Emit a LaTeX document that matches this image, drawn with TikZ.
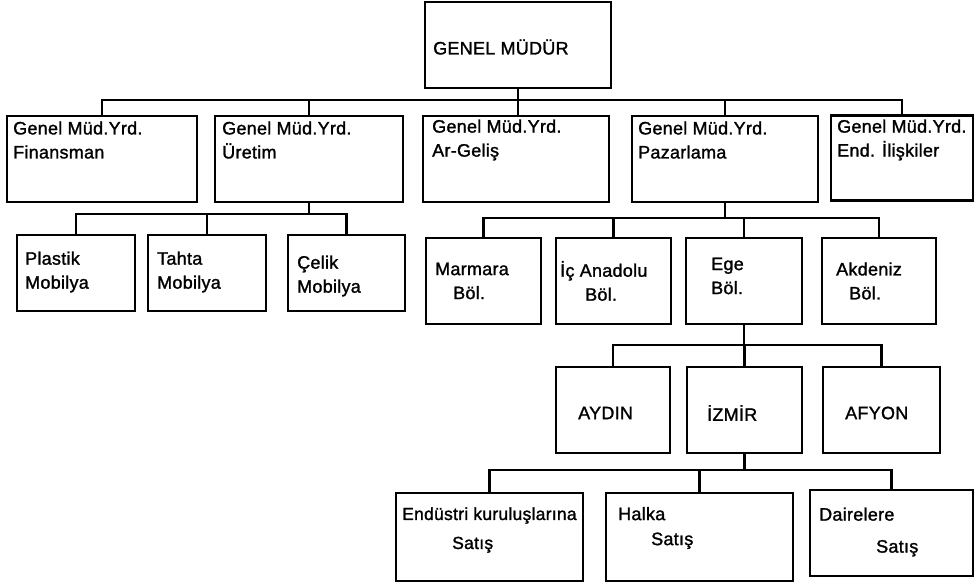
\documentclass[tikz,border=0pt]{standalone}
\usepackage{fontspec}
\setmainfont{Liberation Sans}
\newfontfamily\chartfont{Liberation Sans}[FakeBold=1.4,LetterSpace=1.5]
\usetikzlibrary{calc}
\tikzset{
  unit/.style      = {rectangle, draw, line width=2.4pt, inner sep=0pt},
  wire/.style      = {line width=2.2pt},
  unitlabel/.style = {anchor=west, align=left, inner sep=0pt,
                      font=\chartfont\fontsize{18}{24}\selectfont},
}

\begin{document}
\begin{tikzpicture}[x=1pt,y=-1pt]
  \useasboundingbox (0,0) rectangle (975,584);

  % ---------------- genel mudur -------------------------------------------
  \node[unit,minimum width=186,minimum height=86] (gm) at (518,45) {};
  \node[unitlabel] (gm-t) at (433,47) {GENEL MÜDÜR};

  % ---------------- yardimcilar -------------------------------------------
  \node[unit,minimum width=190,minimum height=86] (fin) at (102,159) {};
  \node[unit,minimum width=188,minimum height=86] (ure) at (309,159) {};
  \node[unit,minimum width=186,minimum height=86] (arg) at (516,159) {};
  \node[unit,minimum width=186,minimum height=86] (paz) at (725,159) {};
  \node[unit,minimum width=142,minimum height=85] (endl) at (902,158) {};
  \node[unitlabel] (fin-t) at (13,140) {Genel Müd.Yrd.\\Finansman};
  \node[unitlabel] (ure-t) at (222,140) {Genel Müd.Yrd.\\Üretim};
  \node[unitlabel] (arg-t) at (432,140) {Genel Müd.Yrd.\\Ar-Geliş};
  \node[unitlabel] (paz-t) at (638,140) {Genel Müd.Yrd.\\Pazarlama};
  \node[unitlabel] (endl-t) at (837,140) {Genel Müd.Yrd.\\End. İlişkiler};

  \coordinate (b1) at (0,100);
  \draw[wire] (fin.north) |- (b1 -| endl.north) -- (endl.north);
  \draw[wire] (gm.south) -- (gm.south |- arg.north);
  \draw[wire] (ure.north) -- (ure.north |- b1);
  \draw[wire] (paz.north) -- (paz.north |- b1);

  % ---------------- uretim ------------------------------------------------
  \node[unit,minimum width=118,minimum height=76] (pla) at (76,273) {};
  \node[unit,minimum width=118,minimum height=76] (tah) at (207,273) {};
  \node[unit,minimum width=117,minimum height=76] (cel) at (346.5,273) {};
  \node[unitlabel] (pla-t) at (25,272) {Plastik\\Mobilya};
  \node[unitlabel] (tah-t) at (157,272) {Tahta\\Mobilya};
  \node[unitlabel] (cel-t) at (297,276) {Çelik\\Mobilya};

  \coordinate (b2) at (0,214);
  \draw[wire] (ure.south) -- (ure.south |- b2);
  \draw[wire] (pla.north) |- (b2 -| cel.north) -- (cel.north);
  \draw[wire] (tah.north) -- (tah.north |- b2);

  % ---------------- pazarlama ---------------------------------------------
  \node[unit,minimum width=115,minimum height=86] (mar) at (483.5,281) {};
  \node[unit,minimum width=115,minimum height=86] (ica) at (613.5,281) {};
  \node[unit,minimum width=116,minimum height=86] (ege) at (744,281) {};
  \node[unit,minimum width=114,minimum height=86] (akd) at (879,281) {};
  \node[unitlabel] (mar-t) at (435,281) {Marmara\\\hspace*{18pt}Böl.};
  \node[unitlabel] (ica-t) at (560,281) {İç Anadolu\\\hspace*{25pt}Böl.};
  \node[unitlabel] (ege-t) at (711,276) {Ege\\Böl.};
  \node[unitlabel] (akd-t) at (836,281) {Akdeniz\\\hspace*{13pt}Böl.};

  \coordinate (b3) at (0,218);
  \draw[wire] (paz.south) -- (paz.south |- b3);
  \draw[wire] (mar.north) |- (b3 -| akd.north) -- (akd.north);
  \draw[wire] (ica.north) -- (ica.north |- b3);
  \draw[wire] (ege.north) -- (ege.north |- b3);

  % ---------------- ege ---------------------------------------------------
  \node[unit,minimum width=114,minimum height=86] (ayd) at (613,410) {};
  \node[unit,minimum width=115,minimum height=86] (izm) at (744.5,410) {};
  \node[unit,minimum width=117,minimum height=86] (afy) at (881.5,410) {};
  \node[unitlabel] (ayd-t) at (578,413) {AYDIN};
  \node[unitlabel] (izm-t) at (707,413) {İZMİR};
  \node[unitlabel] (afy-t) at (845,413) {AFYON};

  \coordinate (b4) at (0,345);
  \draw[wire] (ege.south) -- (ege.south |- b4);
  \draw[wire] (ayd.north) |- (b4 -| afy.north) -- (afy.north);
  \draw[wire] (izm.north) -- (izm.north |- b4);

  % ---------------- izmir -------------------------------------------------
  \node[unit,minimum width=187,minimum height=88] (ends) at (489.5,537) {};
  \node[unit,minimum width=187,minimum height=88] (hal) at (699.5,537) {};
  \node[unit,minimum width=163,minimum height=86] (dai) at (891.5,533) {};
  \node[unitlabel,font=\chartfont\fontsize{17.5}{29}\selectfont] (ends-t) at (402,530)
       {Endüstri kuruluşlarına\\\hspace*{50pt}Satış};
  \node[unitlabel,font=\chartfont\fontsize{18}{25}\selectfont] (hal-t) at (618,528)
       {Halka\\\hspace*{33pt}Satış};
  \node[unitlabel,font=\chartfont\fontsize{18}{32}\selectfont] (dai-t) at (819,532)
       {Dairelere\\\hspace*{57pt}Satış};

  \coordinate (b5) at (0,470);
  \draw[wire] (izm.south) -- (izm.south |- b5);
  \draw[wire] (ends.north) |- (b5 -| dai.north) -- (dai.north);
  \draw[wire] (hal.north) -- (hal.north |- b5);
\end{tikzpicture}
\end{document}
